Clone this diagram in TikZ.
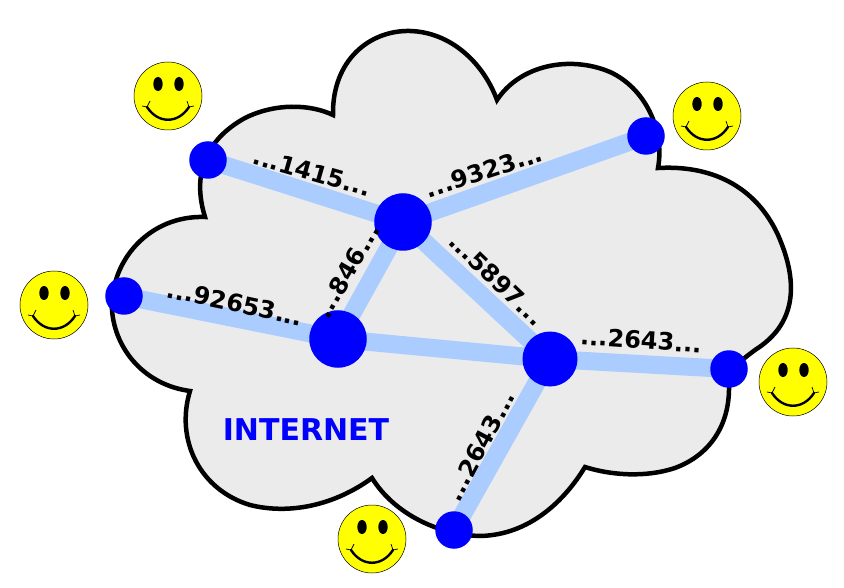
\documentclass[tikz,border=0pt]{standalone}
\usepackage{fontspec}
\usetikzlibrary{backgrounds}
\setmainfont{DejaVu Sans}
\definecolor{linkc}{HTML}{AACCFF}
\definecolor{cloudc}{HTML}{EBEBEB}
\definecolor{smile}{HTML}{FFFF00}
\definecolor{pureblue}{HTML}{0000FF}
\tikzset{x=1pt,y=-1pt,
 link/.style={draw=linkc,line width=18pt},
 small/.style={circle,fill=pureblue,minimum size=37.5pt,inner sep=0pt},
 bignode/.style={circle,fill=pureblue,minimum size=57.5pt,inner sep=0pt},
 lab/.style={font=\bfseries\fontsize{24}{26}\selectfont,inner sep=0pt},
 pics/smiley/.style={code={
  \fill[smile,draw=black,line width=0.5pt] (0,0) circle (34);
  \fill (-10,-12) ellipse (4.7 and 7);
  \fill (11,-12) ellipse (4.7 and 7);
  \draw[line width=2.4pt,line cap=round] (-21,11) .. controls (-10,28) and (10,28) .. (21,11);
  \draw[line width=0.7pt] (-26,10) -- (-21,11) -- (-18,5);
  \draw[line width=0.7pt] (26,10) -- (21,11) -- (19,5);
 }}}
\begin{document}
\begin{tikzpicture}
\useasboundingbox (0,0) rectangle (844,588);
\pic at (168,96) {smiley};
\pic at (707,116) {smiley};
\pic at (54,305) {smiley};
\pic at (793,382) {smiley};
\pic at (372,539) {smiley};
\node[small] (a) at (208,160) {};
\node[small] (b) at (646,136) {};
\node[small] (c) at (124,296) {};
\node[small] (d) at (729,369) {};
\node[small] (e) at (454,530) {};
\node[bignode] (f) at (403,222) {};
\node[bignode] (g) at (338,339) {};
\node[bignode,minimum size=55pt] (h) at (550,359) {};
\begin{scope}[on background layer]
\draw[fill=cloudc,draw=black,line width=4.5pt,line join=miter]
 (205,217) .. controls (192,175) and (205,140) .. (245,118)
 .. controls (275,103) and (310,104) .. (333,115)
 .. controls (332,60) and (370,30) .. (410,31)
 .. controls (450,32) and (483,62) .. (497,100)
 .. controls (520,65) and (570,55) .. (610,72)
 .. controls (645,88) and (665,130) .. (658,168)
 .. controls (710,165) and (755,185) .. (778,235)
 .. controls (800,285) and (795,325) .. (755,350)
 .. controls (745,358) and (735,362) .. (729,385)
 .. controls (730,425) and (710,455) .. (675,468)
 .. controls (645,478) and (610,475) .. (585,467)
 .. controls (565,500) and (530,535) .. (480,536)
 .. controls (440,535) and (395,515) .. (372,478)
 .. controls (335,505) and (290,515) .. (250,505)
 .. controls (200,490) and (175,440) .. (190,391)
 .. controls (145,385) and (115,350) .. (112,310)
 .. controls (110,260) and (150,215) .. (205,217) -- cycle;
\draw[link] (a.center) -- (f.center);
\draw[link] (b.center) -- (f.center);
\draw[link] (c.center) -- (g.center);
\draw[link] (d.center) -- (h.center);
\draw[link] (e.center) -- (h.center);
\draw[link] (f.center) -- (g.center);
\draw[link] (f.center) -- (h.center);
\draw[link] (g.center) -- (h.center);
\end{scope}
\node[lab,rotate=-16] (l1) at (312,172) {...1415...};
\node[lab,rotate=18] (l2) at (484,171) {...9323...};
\node[lab,rotate=-12] (l3) at (235,303) {...92653...};
\node[lab,rotate=60] (l4) at (347,271) {...846...};
\node[lab,rotate=-44] (l5) at (497,279) {...5897...};
\node[lab,rotate=-4] (l6) at (641,340) {...2643...};
\node[lab,rotate=62] (l7) at (480,446) {...2643...};
\node[font=\bfseries\fontsize{30}{32}\selectfont,text=pureblue,inner sep=0pt] (t) at (306,430) {INTERNET};
\end{tikzpicture}
\end{document}
